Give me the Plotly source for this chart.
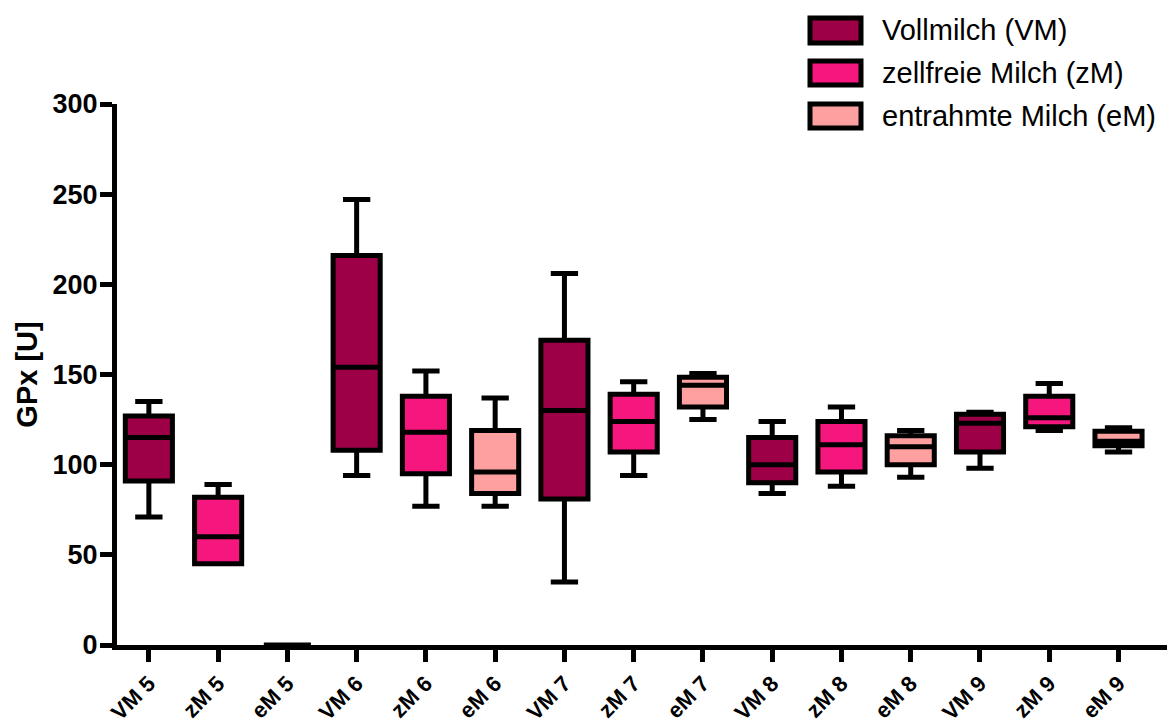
import plotly.graph_objects as go

# ---------------- data ----------------
categories = ["VM 5", "zM 5", "eM 5", "VM 6", "zM 6", "eM 6", "VM 7", "zM 7", "eM 7",
              "VM 8", "zM 8", "eM 8", "VM 9", "zM 9", "eM 9"]
groups = ["VM", "zM", "eM"] * 5
mins    = [71, 45, 0,  94, 77, 77,  35,  94, 125,  84,  88,  93,  98, 119, 107]
q1s     = [91, 45, 0, 108, 95, 84,  81, 107, 132,  90,  96, 100, 107, 121, 110.5]
medians = [115, 60, 0, 154, 118, 96, 130, 124, 144, 100, 111, 110, 123, 126, 113]
q3s     = [127, 82, 0, 216, 138, 119, 169, 139, 148.5, 115, 124, 116, 128, 138, 118.5]
maxs    = [135, 89, 0, 247, 152, 137, 206, 146, 150.5, 124, 132, 119, 129, 145, 120.5]

group_names = {"VM": "Vollmilch (VM)", "zM": "zellfreie Milch (zM)", "eM": "entrahmte Milch (eM)"}
group_colors = {"VM": "#9E0047", "zM": "#F5167E", "eM": "#FFA0A0"}
y_ticks = [0, 50, 100, 150, 200, 250, 300]

FONT = "Liberation Sans, Arial, sans-serif"

fig = go.Figure()
for g in ["VM", "zM", "eM"]:
    idx = [i for i, gg in enumerate(groups) if gg == g]
    fig.add_trace(go.Box(
        x=[categories[i] for i in idx],
        q1=[q1s[i] for i in idx],
        median=[medians[i] for i in idx],
        q3=[q3s[i] for i in idx],
        lowerfence=[mins[i] for i in idx],
        upperfence=[maxs[i] for i in idx],
        name=group_names[g],
        fillcolor=group_colors[g],
        line=dict(color="black", width=5),
        width=0.68,
        whiskerwidth=0.58,
        boxpoints=False,
        showlegend=False,
    ))

# plot area in pixels
L, R, T, B = 117, 1167, 104, 645
W, H = 1171, 727

def px(x):
    return (x - L) / (R - L)

def py(y):
    return (B - y) / (B - T)

shapes = []
annotations = []
legend_rows = [(18, 43), (61, 85), (104, 128)]
for (y0, y1), g in zip(legend_rows, ["VM", "zM", "eM"]):
    shapes.append(dict(type="rect", xref="paper", yref="paper",
                       x0=px(810), x1=px(861), y0=py(y1), y1=py(y0),
                       fillcolor=group_colors[g], line=dict(color="black", width=5),
                       layer="above"))
    annotations.append(dict(xref="paper", yref="paper", x=px(880), y=py((y0 + y1) / 2),
                            text=group_names[g], showarrow=False, xanchor="left", yanchor="middle",
                            font=dict(family=FONT, size=29, color="black")))

fig.update_layout(
    width=W, height=H,
    margin=dict(l=L, r=W - R, t=T, b=H - B, autoexpand=False),
    paper_bgcolor="white", plot_bgcolor="white",
    boxmode="overlay",
    showlegend=False,
    shapes=shapes,
    annotations=annotations,
    font=dict(family=FONT, color="black"),
)
fig.update_xaxes(
    type="category", categoryorder="array", categoryarray=categories,
    range=[-0.46, 14.7],
    automargin=False,
    showline=True, linecolor="black", linewidth=5,
    ticks="outside", ticklen=12, tickwidth=5, tickcolor="black",
    tickangle=-45, ticklabelstandoff=0,
    tickfont=dict(family=FONT, size=22, color="black", weight="bold"),
    showgrid=False, zeroline=False,
)
fig.update_yaxes(
    range=[0, 300],
    tickvals=y_ticks,
    automargin=False,
    showline=True, linecolor="black", linewidth=5,
    ticks="outside", ticklen=12, tickwidth=5, tickcolor="black",
    ticklabelstandoff=-3,
    tickfont=dict(family=FONT, size=27, color="black", weight="bold"),
    title=dict(text="GPx [U]", font=dict(family=FONT, size=29, color="black", weight="bold"), standoff=8),
    showgrid=False, zeroline=False,
)

fig.write_html("out.html")
